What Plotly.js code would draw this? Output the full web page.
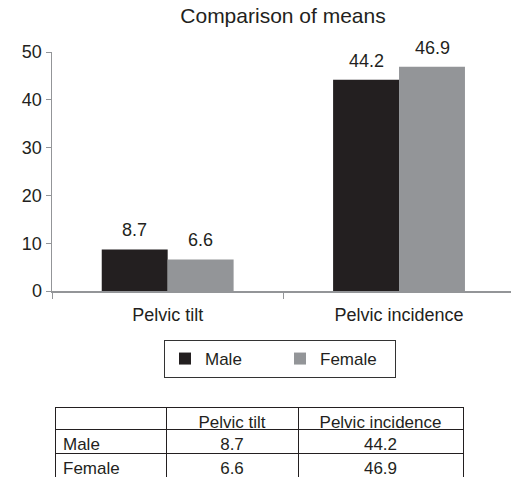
<!DOCTYPE html>
<html>
<head>
<meta charset="utf-8">
<script src="https://cdn.plot.ly/plotly-3.0.1.min.js"></script>
<style>html,body{margin:0;padding:0;background:#fff;}#chart{width:511px;height:477px;}</style>
</head>
<body>
<div id="chart"></div>
<script>
// ---- data ----
const categories = ["Pelvic tilt", "Pelvic incidence"];
const seriesNames = ["Male", "Female"];
const maleValues = [8.7, 44.2];
const femaleValues = [6.6, 46.9];
const yTicks = [0, 10, 20, 30, 40, 50];

const TXT = "#231f20";
const FONT = "Liberation Sans, Arial, sans-serif";
const colors = ["#231f20", "#939598"];
const allValues = [maleValues, femaleValues];

const traces = allValues.map((vals, i) => ({
  type: "bar",
  name: seriesNames[i],
  x: categories,
  y: vals,
  marker: {color: colors[i], line: {width: 0}},
  hoverinfo: "none"
}));

// table built from the same arrays
const tableTrace = {
  type: "table",
  domain: {x: [55/511, 463/511], y: [0, 70/477]},
  columnwidth: [111, 132, 165],
  header: {
    values: [""].concat(categories),
    align: ["center", "center", "center"],
    height: 22,
    line: {color: TXT, width: 1},
    fill: {color: "#ffffff"},
    font: {family: FONT, size: 17, color: TXT}
  },
  cells: {
    values: [
      seriesNames,
      allValues.map(vals => vals[0].toFixed(1)),
      allValues.map(vals => vals[1].toFixed(1))
    ],
    align: ["left", "center", "center"],
    height: 24,
    line: {color: TXT, width: 1},
    fill: {color: "#ffffff"},
    font: {family: FONT, size: 17, color: TXT}
  }
};

const shifts = [-33, 33];
const annotations = [];
allValues.forEach((vals, i) => {
  vals.forEach((v, j) => {
    annotations.push({
      x: categories[j], y: v, xref: "x", yref: "y",
      text: v.toFixed(1), showarrow: false,
      xshift: shifts[i], yshift: 19, yanchor: "middle",
      font: {family: FONT, size: 18, color: TXT}
    });
  });
});

const layout = {
  width: 511, height: 477,
  margin: {l: 0, r: 0, t: 0, b: 0},
  paper_bgcolor: "#ffffff", plot_bgcolor: "#ffffff",
  font: {family: FONT, size: 16, color: TXT},
  title: {text: "Comparison of means", font: {family: FONT, size: 21, color: TXT},
          xref: "container", yref: "container", x: 283/511, xanchor: "center",
          y: 1 - 16/477, yanchor: "middle"},
  barmode: "group",
  bargap: 0.43,
  bargroupgap: 0,
  showlegend: true,
  legend: {
    orientation: "h",
    x: 164/511, xanchor: "left", xref: "paper",
    y: (477 - 340)/477, yanchor: "top", yref: "paper",
    bordercolor: "#333", borderwidth: 1,
    entrywidth: 70, entrywidthmode: "pixels",
    font: {family: FONT, size: 17, color: TXT},
    itemclick: false
  },
  xaxis: {
    domain: [52/511, 1],
    type: "category",
    range: [-0.5, 1.484],
    showline: true, linecolor: "#939598", linewidth: 1.5,
    ticks: "outside", tickson: "boundaries", ticklen: 6, tickcolor: "#939598", tickwidth: 1,
    ticklabelstandoff: 7,
    showgrid: false, zeroline: false,
    tickfont: {family: FONT, size: 18, color: TXT},
    fixedrange: true
  },
  yaxis: {
    domain: [(477 - 291)/477, (477 - 52)/477],
    range: [0, 50],
    tickvals: yTicks,
    ticktext: yTicks.map(String),
    showline: true, linecolor: "#939598", linewidth: 1.5,
    ticks: "outside", ticklen: 5, tickcolor: "#939598", tickwidth: 1,
    showgrid: false, zeroline: false,
    tickfont: {family: FONT, size: 18, color: TXT},
    fixedrange: true
  },
  annotations: annotations
};

Plotly.newPlot("chart", traces.concat([tableTrace]), layout, {displayModeBar: false, staticPlot: true});
</script>
</body>
</html>
